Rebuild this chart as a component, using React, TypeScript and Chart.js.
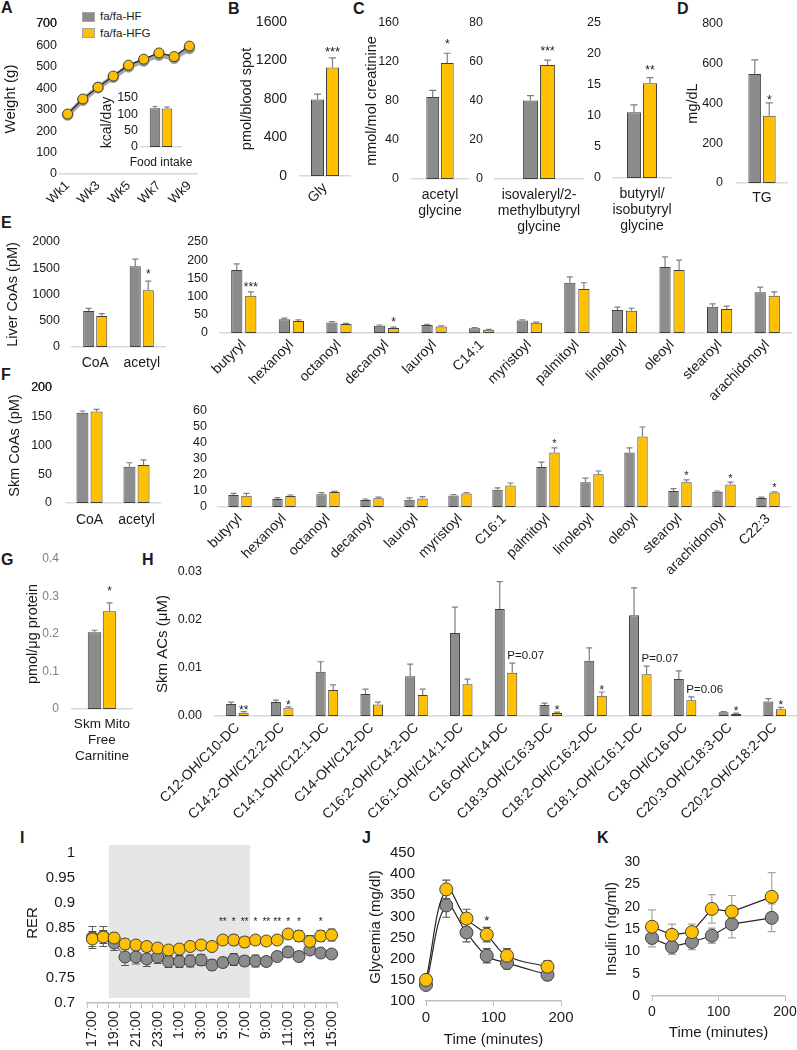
import React, { useEffect, useRef } from 'react';
import { Chart, registerables } from 'chart.js';

Chart.register(...registerables);

const FONT = "'Liberation Sans', Arial, Helvetica, sans-serif";
Chart.defaults.font.family = FONT;

const GRAY = '#8c8c8c';
const GOLD = '#ffc000';
const EDGE = '#404040';
const ERR = '#7f7f7f';
const BASE = '#d9d9d9';
const TXT = '#1a1a1a';

// ================= DATA =================
const groupNames = ['fa/fa-HF', 'fa/fa-HFG'];

// A: body weight + food intake inset
const weekLabels = ['Wk1', 'Wk2', 'Wk3', 'Wk4', 'Wk5', 'Wk6', 'Wk7', 'Wk8', 'Wk9'];
const weightHF = [276, 345, 403, 452, 501, 528, 555, 541, 586];
const weightHFG = [280, 350, 405, 457, 508, 536, 565, 548, 597];
const foodLabels = ['Food intake'];
const foodHF = [119];
const foodHFG = [118];
const foodHFErr = [5];
const foodHFGErr = [4];

// B
const glyLabels = ['Gly'];
const glyHF = [795];
const glyHFG = [1127];
const glyHFErr = [55];
const glyHFGErr = [100];
const glyStars = ['***'];

// C
const acGlyLabels = [['acetyl', 'glycine']];
const acGlyHF = [84];
const acGlyHFG = [119];
const acGlyHFErr = [7];
const acGlyHFGErr = [10];
const acGlyStars = ['*'];

const ivGlyLabels = [['isovaleryl/2-', 'methylbutyryl', 'glycine']];
const ivGlyHF = [40.3];
const ivGlyHFG = [58.4];
const ivGlyHFErr = [2.5];
const ivGlyHFGErr = [2.6];
const ivGlyStars = ['***'];

const buGlyLabels = [['butyryl/', 'isobutyryl', 'glycine']];
const buGlyHF = [10.6];
const buGlyHFG = [15.3];
const buGlyHFErr = [1.2];
const buGlyHFGErr = [0.9];
const buGlyStars = ['**'];

// D
const tgLabels = ['TG'];
const tgHF = [549];
const tgHFG = [338];
const tgHFErr = [71];
const tgHFGErr = [65];
const tgStars = ['*'];

// E
const liverCoaLabels = ['CoA', 'acetyl'];
const liverCoaHF = [684, 1540];
const liverCoaHFG = [589, 1083];
const liverCoaHFErr = [50, 133];
const liverCoaHFGErr = [45, 171];
const liverCoaStars = ['', '*'];

const liverAcylLabels = ['butyryl', 'hexanoyl', 'octanoyl', 'decanoyl', 'lauroyl', 'C14:1', 'myristoyl', 'palmitoyl', 'linoleoyl', 'oleoyl', 'stearoyl', 'arachidonoyl'];
const liverAcylHF = [173, 38, 29, 20, 22, 13, 34, 138, 63, 181, 72, 112];
const liverAcylHFG = [102, 33, 25, 14, 18, 9, 28, 121, 61, 173, 66, 102];
const liverAcylHFErr = [17, 3, 2, 2, 2, 1.5, 2, 16, 8, 28, 8, 14];
const liverAcylHFGErr = [11, 3, 1.5, 2, 1.5, 1, 2, 17, 7, 27, 8, 11];
const liverAcylStars = ['***', '', '', '*', '', '', '', '', '', '', '', ''];

// F
const skmCoaLabels = ['CoA', 'acetyl'];
const skmCoaHF = [157, 63];
const skmCoaHFG = [159, 66];
const skmCoaHFErr = [3, 7];
const skmCoaHFGErr = [4, 9];

const skmAcylLabels = ['butyryl', 'hexanoyl', 'octanoyl', 'decanoyl', 'lauroyl', 'myristoyl', 'C16:1', 'palmitoyl', 'linoleoyl', 'oleoyl', 'stearoyl', 'arachidonoyl', 'C22:3'];
const skmAcylHF = [7.5, 5, 8, 4.4, 4.5, 7.2, 10.8, 25, 15.5, 34, 10, 9.5, 5.6];
const skmAcylHFG = [7, 6.8, 9.4, 5.4, 5.3, 8.5, 13.5, 34, 20.5, 44, 15.5, 14, 9];
const skmAcylHFErr = [1, 0.8, 1, 0.6, 1.2, 0.6, 1.2, 3, 2.5, 3, 1.5, 0.5, 0.6];
const skmAcylHFGErr = [1.5, 0.7, 0.4, 0.8, 1.2, 0.5, 1.5, 3, 2, 6, 1.5, 1.5, 0.5];
const skmAcylStars = ['', '', '', '', '', '', '', '*', '', '', '*', '*', '*'];

// G
const carnLabels = [['Skm Mito', 'Free', 'Carnitine']];
const carnHF = [0.205];
const carnHFG = [0.261];
const carnHFErr = [0.005];
const carnHFGErr = [0.022];
const carnStars = ['*'];

// H
const acLabels = ['C12-OH/C10-DC', 'C14:2-OH/C12:2-DC', 'C14:1-OH/C12:1-DC', 'C14-OH/C12-DC', 'C16:2-OH/C14:2-DC', 'C16:1-OH/C14:1-DC', 'C16-OH/C14-DC', 'C18:3-OH/C16:3-DC', 'C18:2-OH/C16:2-DC', 'C18:1-OH/C16:1-DC', 'C18-OH/C16-DC', 'C20:3-OH/C18:3-DC', 'C20:2-OH/C18:2-DC'];
const acHF = [0.0025, 0.0029, 0.0092, 0.0046, 0.0083, 0.0173, 0.0223, 0.0023, 0.0115, 0.021, 0.0077, 0.0008, 0.003];
const acHFG = [0.0007, 0.0016, 0.0054, 0.0024, 0.0044, 0.0066, 0.009, 0.0006, 0.0042, 0.0087, 0.0033, 0.0004, 0.0014];
const acHFErr = [0.0004, 0.0004, 0.0021, 0.001, 0.0025, 0.0054, 0.0057, 0.0004, 0.0027, 0.0057, 0.0017, 0.0001, 0.0006];
const acHFGErr = [0.0002, 0.0003, 0.0011, 0.0005, 0.0012, 0.0011, 0.002, 0.0002, 0.0008, 0.0017, 0.0007, 0.0002, 0.0004];
const acStars = ['**', '*', '', '', '', '', '', '*', '*', '', '', '*', '*'];
const acNotes = ['', '', '', '', '', '', 'P=0.07', '', '', 'P=0.07', 'P=0.06', '', ''];

// I
const hours = ['17:00', '18:00', '19:00', '20:00', '21:00', '22:00', '23:00', '0:00', '1:00', '2:00', '3:00', '4:00', '5:00', '6:00', '7:00', '8:00', '9:00', '10:00', '11:00', '12:00', '13:00', '14:00', '15:00'];
const rerHF = [0.831, 0.833, 0.82, 0.792, 0.792, 0.788, 0.792, 0.783, 0.783, 0.784, 0.786, 0.776, 0.781, 0.787, 0.784, 0.784, 0.783, 0.793, 0.802, 0.793, 0.806, 0.8, 0.798];
const rerHFG = [0.828, 0.832, 0.83, 0.818, 0.816, 0.813, 0.81, 0.806, 0.808, 0.813, 0.816, 0.813, 0.826, 0.826, 0.822, 0.826, 0.824, 0.826, 0.838, 0.834, 0.823, 0.834, 0.836];
const rerHFErr = [0.022, 0.02, 0.015, 0.017, 0.014, 0.015, 0.013, 0.012, 0.012, 0.012, 0.011, 0.01, 0.01, 0.012, 0.01, 0.012, 0.009, 0.008, 0.01, 0.01, 0.006, 0.007, 0.006];
const rerHFGErr = [0.015, 0.013, 0.01, 0.01, 0.009, 0.009, 0.008, 0.008, 0.009, 0.008, 0.008, 0.008, 0.008, 0.01, 0.01, 0.009, 0.008, 0.008, 0.009, 0.011, 0.012, 0.011, 0.012];
const rerStars = ['', '', '', '', '', '', '', '', '', '', '', '', '**', '*', '**', '*', '**', '**', '*', '*', '', '*', ''];
const rerStarLevel = 0.868;
const darkStart = '19:00';
const darkEnd = '7:00';

// J
const gttTime = [0, 30, 60, 90, 120, 180];
const gttHF = [138, 326, 262, 207, 190, 162];
const gttHFG = [150, 364, 295, 257, 207, 181];
const gttHFErr = [5, 28, 22, 17, 14, 12];
const gttHFGErr = [6, 22, 22, 17, 17, 14];
const gttStars = ['', '', '', '*', '', ''];

// K
const insTime = [0, 30, 60, 90, 120, 180];
const insHF = [13, 11, 12.1, 13.5, 16.1, 17.5];
const insHFG = [15.5, 13.7, 14.3, 19.5, 18.9, 22.2];
const insHFErr = [2, 1.7, 1.7, 1.7, 3.1, 3.1];
const insHFGErr = [3.8, 2.4, 1.8, 3.2, 3.6, 5.4];

// ================= PLUGINS =================
function drawErr(chart: any, o: any) {
  if (!o || !o.errs) return;
  const ctx = chart.ctx;
  const ys = chart.scales.y;
  ctx.save();
  ctx.lineWidth = o.width ?? 1.2;
  o.errs.forEach((errs: number[], di: number) => {
    if (!errs) return;
    ctx.strokeStyle = (o.colors && o.colors[di]) || ERR;
    const meta = chart.getDatasetMeta(di);
    const data = chart.data.datasets[di].data;
    meta.data.forEach((el: any, i: number) => {
      const e = errs[i];
      if (!e) return;
      const d = data[i];
      const v = typeof d === 'number' ? d : d.y;
      const x = el.x;
      const top = ys.getPixelForValue(v + e);
      const bot = o.both ? ys.getPixelForValue(v - e) : el.y;
      const h = (o.cap ?? 6) / 2;
      ctx.beginPath();
      ctx.moveTo(x, bot);
      ctx.lineTo(x, top);
      ctx.moveTo(x - h, top);
      ctx.lineTo(x + h, top);
      if (o.both) {
        ctx.moveTo(x - h, bot);
        ctx.lineTo(x + h, bot);
      }
      ctx.stroke();
    });
  });
  ctx.restore();
}

const errPlugin = {
  id: 'errbars',
  beforeDatasetsDraw(chart: any, _a: any, o: any) {
    if (o && o.under) drawErr(chart, o);
  },
  afterDatasetsDraw(chart: any, _a: any, o: any) {
    if (o && !o.under) drawErr(chart, o);
  },
};

const marksPlugin = {
  id: 'marks',
  afterDatasetsDraw(chart: any, _a: any, o: any) {
    if (!o || (!o.items && !o.notes)) return;
    const ctx = chart.ctx;
    const ys = chart.scales.y;
    const di = o.ds ?? 1;
    const meta = chart.getDatasetMeta(di);
    const data = chart.data.datasets[di].data;
    const errTop = (i: number) => {
      const d = data[i];
      const v = typeof d === 'number' ? d : d.y;
      return ys.getPixelForValue(v + (o.errs ? o.errs[i] || 0 : 0));
    };
    ctx.save();
    ctx.fillStyle = TXT;
    ctx.textBaseline = 'alphabetic';
    if (o.items) {
      const fs = o.font ?? 12;
      ctx.font = `${fs}px ${FONT}`;
      ctx.textAlign = 'center';
      o.items.forEach((t: string, i: number) => {
        if (!t) return;
        const el = meta.data[i];
        const cy = o.level != null ? ys.getPixelForValue(o.level) : errTop(i) - (o.gap ?? 8);
        ctx.fillText(t, el.x, cy + 0.58 * fs);
      });
    }
    if (o.notes) {
      ctx.font = `${o.noteFont ?? 11.5}px ${FONT}`;
      ctx.textAlign = 'left';
      o.notes.forEach((t: string, i: number) => {
        if (!t) return;
        const el = meta.data[i];
        ctx.fillText(t, el.x - el.width / 2, errTop(i) - (o.noteGap ?? 4));
      });
    }
    ctx.restore();
  },
};

const shadePlugin = {
  id: 'shade',
  beforeDatasetsDraw(chart: any, _a: any, o: any) {
    if (!o || o.from == null) return;
    const xs = chart.scales.x;
    const ys = chart.scales.y;
    const labels = chart.data.labels;
    const i0 = labels.indexOf(o.from);
    const i1 = labels.indexOf(o.to);
    const half = (xs.getPixelForValue(1) - xs.getPixelForValue(0)) / 2;
    const x0 = xs.getPixelForValue(i0) - half;
    const x1 = xs.getPixelForValue(i1) + half;
    const y0 = ys.getPixelForValue(o.top);
    const y1 = ys.getPixelForValue(o.bottom);
    const ctx = chart.ctx;
    ctx.save();
    ctx.fillStyle = o.color;
    ctx.fillRect(x0, y0, x1 - x0, y1 - y0);
    ctx.restore();
  },
};

// Draws the label of the top y tick (safety net for the topmost axis label).
const topLabelPlugin = {
  id: 'toplabel',
  afterDraw(chart: any, _a: any, o: any) {
    if (!o || o.value == null) return;
    const ys = chart.scales.y;
    const ctx = chart.ctx;
    ctx.save();
    ctx.font = `${o.size}px ${FONT}`;
    ctx.fillStyle = o.color;
    ctx.textAlign = 'right';
    ctx.textBaseline = 'middle';
    ctx.fillText(o.fmt(o.value), ys.right - o.pad, ys.getPixelForValue(o.value));
    ctx.restore();
  },
};

// ================= HELPERS =================
const fixW = (w: number) => (sc: any) => {
  sc.width = w;
  sc.paddingTop = 0; sc.paddingBottom = 0; sc.paddingLeft = 0; sc.paddingRight = 0;
};
const fixH = (h: number) => (sc: any) => {
  sc.height = h;
  sc.paddingTop = 0; sc.paddingBottom = 0; sc.paddingLeft = 0; sc.paddingRight = 0;
};

function baseOptions(c: any, a: any) {
  return {
    responsive: false,
    animation: false,
    devicePixelRatio: 1,
    events: [],
    layout: { autoPadding: false, padding: { left: 0, top: a.t - c.t, right: c.r - a.r, bottom: 0 } },
  };
}

const defaultFmt = (v: any) => String(v);

function topLabelOpts(s: any) {
  if (!s.fixTop) return {};
  return {
    value: s.y.limit ?? s.y.max,
    fmt: s.y.fmt ?? defaultFmt,
    size: s.tickFont,
    color: s.tickColor ?? TXT,
    pad: s.tickPad,
  };
}

function yAxis(s: any) {
  const ax: any = {
    min: s.y.min,
    max: s.y.max,
    ticks: {
      autoSkip: false,
      stepSize: s.y.step,
      padding: s.tickPad,
      color: s.tickColor ?? TXT,
      font: { family: FONT, size: s.tickFont },
      callback: s.y.fmt ?? defaultFmt,
    },
    grid: { display: false, drawTicks: false },
    border: { display: false },
    title: s.title
      ? { display: true, text: s.title, color: TXT, font: { family: FONT, size: s.titleFont }, padding: { top: s.titlePad, bottom: 0 } }
      : { display: false },
    afterFit: fixW(s.area.l - s.canvas.l),
  };
  if (s.y.limit != null) {
    ax.afterBuildTicks = (sc: any) => { sc.ticks = sc.ticks.filter((t: any) => t.value <= s.y.limit + 1e-6); };
  }
  return ax;
}

function barConfig(s: any) {
  const c = s.canvas, a = s.area;
  const ds = (data: number[], color: string, label: string) => ({
    label, data: data.slice(), backgroundColor: color, borderColor: EDGE, borderWidth: 1, borderSkipped: false,
    categoryPercentage: s.cat, barPercentage: s.bar,
  });
  return {
    type: 'bar',
    data: { labels: s.labels.slice(), datasets: [ds(s.hf, GRAY, groupNames[0]), ds(s.hfg, GOLD, groupNames[1])] },
    options: {
      ...baseOptions(c, a),
      plugins: {
        legend: { display: false },
        tooltip: { enabled: false },
        errbars: { errs: [s.hfErr, s.hfgErr], cap: s.cap ?? 6 },
        marks: { items: s.stars, notes: s.notes, errs: s.hfgErr, ds: 1, gap: s.starGap ?? 8, font: s.starFont ?? 12, noteFont: 11.5, noteGap: 4 },
        toplabel: topLabelOpts(s),
      },
      scales: {
        x: {
          grid: { display: false, drawTicks: false },
          border: { display: true, color: BASE, width: 1.5 },
          ticks: {
            autoSkip: false, maxRotation: s.rotate, minRotation: s.rotate, padding: s.labelPad, color: TXT,
            font: { family: FONT, size: s.labelFont, lineHeight: s.lineHeight ?? 1.15 },
          },
          afterFit: fixH(c.b - a.b),
        },
        y: yAxis(s),
      },
    },
    plugins: [errPlugin, marksPlugin, topLabelPlugin],
  };
}

function panelA() {
  const c = { l: 0, t: 0, r: 200, b: 215 }, a = { l: 60, t: 24, r: 197, b: 174 };
  const s = { canvas: c, area: a, y: { min: 0, max: 700, step: 100 }, tickFont: 12.5, tickPad: 3, title: 'Weight (g)', titleFont: 15, titlePad: 2, fixTop: true };
  return {
    canvas: c,
    config: {
      type: 'line',
      data: {
        labels: weekLabels.slice(),
        datasets: [
          { label: groupNames[0], data: weightHF.slice(), borderColor: '#a6a6a6', borderWidth: 5, pointRadius: 5.5, pointBackgroundColor: GRAY, pointBorderColor: '#a6a6a6', pointBorderWidth: 1, order: 2, clip: false },
          { label: groupNames[1], data: weightHFG.slice(), borderColor: '#262626', borderWidth: 1.2, pointRadius: 5, pointBackgroundColor: GOLD, pointBorderColor: EDGE, pointBorderWidth: 1, order: 1, clip: false },
        ],
      },
      options: {
        ...baseOptions(c, a),
        plugins: { legend: { display: false }, tooltip: { enabled: false }, toplabel: topLabelOpts(s) },
        scales: {
          x: {
            offset: true,
            grid: { display: false, drawTicks: false },
            border: { display: true, color: BASE, width: 1.5 },
            ticks: {
              autoSkip: false, minRotation: 45, maxRotation: 45, padding: 4, color: TXT,
              font: { family: FONT, size: 13 },
              callback: (_v: any, i: number) => (i % 2 === 0 ? weekLabels[i] : ''),
            },
            afterFit: fixH(c.b - a.b),
          },
          y: yAxis(s),
        },
      },
      plugins: [topLabelPlugin],
    },
  };
}

function bar(s: any) {
  return { canvas: s.canvas, config: barConfig(s) };
}

function panelI() {
  const c = { l: 10, t: 830, r: 345, b: 1050 }, a = { l: 87, t: 843, r: 337, b: 1003 };
  const s = { canvas: c, area: a, y: { min: 0.7, max: 1.02, step: 0.05, limit: 1, fmt: (v: any) => String(+Number(v).toFixed(2)) }, tickFont: 15, tickPad: 12, title: 'RER', titleFont: 15, titlePad: 14, fixTop: true };
  const pt = (data: number[], color: string, label: string, order: number) => ({
    label, data: data.slice(), borderColor: '#404040', borderWidth: 1, pointRadius: 6, pointBackgroundColor: color, pointBorderColor: EDGE, pointBorderWidth: 1, order, clip: false,
  });
  return {
    canvas: c,
    config: {
      type: 'line',
      data: { labels: hours.slice(), datasets: [pt(rerHF, GRAY, groupNames[0], 2), pt(rerHFG, GOLD, groupNames[1], 1)] },
      options: {
        ...baseOptions(c, a),
        plugins: {
          legend: { display: false },
          tooltip: { enabled: false },
          shade: { from: darkStart, to: darkEnd, top: 1.016, bottom: 0.71, color: '#e6e6e6' },
          errbars: { errs: [rerHFErr, rerHFGErr], both: true, under: true, cap: 8, colors: ['#595959', '#595959'], width: 1 },
          marks: { items: rerStars, level: rerStarLevel, font: 10, ds: 1 },
          toplabel: topLabelOpts(s),
        },
        scales: {
          x: {
            offset: true,
            grid: { display: true, drawOnChartArea: false, drawTicks: true, tickLength: 5, color: '#bfbfbf', offset: true },
            border: { display: true, color: '#bfbfbf', width: 1.5 },
            ticks: {
              autoSkip: false, minRotation: 90, maxRotation: 90, padding: 3, color: TXT,
              font: { family: FONT, size: 14.5 },
              callback: (_v: any, i: number) => (i % 2 === 0 ? hours[i] : ''),
            },
            afterFit: fixH(c.b - a.b),
          },
          y: yAxis(s),
        },
      },
      plugins: [shadePlugin, errPlugin, marksPlugin, topLabelPlugin],
    },
  };
}

function timeCourse(p: any) {
  const c = p.canvas, a = p.area;
  const pts = (ys: number[]) => p.times.map((t: number, i: number) => ({ x: t, y: ys[i] }));
  const ds = (ys: number[], color: string, label: string, order: number) => ({
    label, data: pts(ys), borderColor: '#262626', borderWidth: 1.2, pointRadius: 6.5, pointBackgroundColor: color,
    pointBorderColor: EDGE, pointBorderWidth: 1, order, tension: p.tension, clip: false,
  });
  return {
    canvas: c,
    config: {
      type: 'line',
      data: { datasets: [ds(p.hf, GRAY, groupNames[0], 2), ds(p.hfg, GOLD, groupNames[1], 1)] },
      options: {
        ...baseOptions(c, a),
        plugins: {
          legend: { display: false },
          tooltip: { enabled: false },
          errbars: { errs: [p.hfErr, p.hfgErr], both: true, under: true, cap: 8, colors: [p.errColor, p.errColor], width: 1.2 },
          marks: p.stars ? { items: p.stars, errs: p.hfgErr, gap: p.starGap, font: 13, ds: 1 } : {},
        },
        scales: {
          x: {
            type: 'linear', min: 0, max: 200,
            grid: { display: true, drawOnChartArea: false, drawTicks: true, tickLength: 5, color: '#bfbfbf' },
            border: { display: true, color: '#bfbfbf', width: 1.5 },
            ticks: { stepSize: 100, padding: p.labelPad, color: TXT, font: { family: FONT, size: p.tickFont }, callback: (v: any) => String(v) },
            title: { display: true, text: 'Time (minutes)', color: TXT, font: { family: FONT, size: 15 }, padding: { top: 0, bottom: p.xTitlePad } },
            afterFit: fixH(c.b - a.b),
          },
          y: yAxis(p),
        },
      },
      plugins: [errPlugin, marksPlugin],
    },
  };
}

// Builds fresh config objects every call (Chart.js mutates the config it receives).
function buildPanels(): any[] {
  return [
    panelA(),
    bar({
      canvas: { l: 98, t: 88, r: 200, b: 172 }, area: { l: 141, t: 98, r: 181, b: 147 },
      labels: foodLabels, hf: foodHF, hfg: foodHFG, hfErr: foodHFErr, hfgErr: foodHFGErr,
      y: { min: 0, max: 150, step: 50 }, tickFont: 12.5, tickPad: 3, title: 'kcal/day', titleFont: 14, titlePad: 1,
      labelFont: 12, labelPad: 9, rotate: 0, cat: 0.6, bar: 0.88, cap: 5,
    }),
    bar({
      canvas: { l: 230, t: 0, r: 355, b: 215 }, area: { l: 300, t: 22, r: 350, b: 176 },
      labels: glyLabels, hf: glyHF, hfg: glyHFG, hfErr: glyHFErr, hfgErr: glyHFGErr, stars: glyStars,
      y: { min: 0, max: 1600, step: 400 }, tickFont: 14, tickPad: 13, title: 'pmol/blood spot', titleFont: 14.5, titlePad: 8,
      labelFont: 14, labelPad: 4, rotate: 45, cat: 0.6, bar: 0.87, cap: 7, starFont: 13, starGap: 9,
    }),
    bar({
      canvas: { l: 350, t: 0, r: 470, b: 240 }, area: { l: 412, t: 23, r: 468, b: 179 },
      labels: acGlyLabels, hf: acGlyHF, hfg: acGlyHFG, hfErr: acGlyHFErr, hfgErr: acGlyHFGErr, stars: acGlyStars,
      y: { min: 0, max: 160, step: 40 }, tickFont: 12.5, tickPad: 13, title: 'mmol/mol creatinine', titleFont: 14.5, titlePad: 13,
      labelFont: 14, labelPad: 8, rotate: 0, cat: 0.52, bar: 0.88, cap: 7, starFont: 12, starGap: 12,
    }),
    bar({
      canvas: { l: 470, t: 0, r: 590, b: 240 }, area: { l: 495, t: 23, r: 583, b: 179 },
      labels: ivGlyLabels, hf: ivGlyHF, hfg: ivGlyHFG, hfErr: ivGlyHFErr, hfgErr: ivGlyHFGErr, stars: ivGlyStars,
      y: { min: 0, max: 80, step: 20 }, tickFont: 12.5, tickPad: 12,
      labelFont: 14, labelPad: 8, rotate: 0, cat: 0.39, bar: 0.88, cap: 7, starFont: 12, starGap: 12,
    }),
    bar({
      canvas: { l: 580, t: 0, r: 678, b: 240 }, area: { l: 613, t: 23, r: 671, b: 178 },
      labels: buGlyLabels, hf: buGlyHF, hfg: buGlyHFG, hfErr: buGlyHFErr, hfgErr: buGlyHFGErr, stars: buGlyStars,
      y: { min: 0, max: 25, step: 5 }, tickFont: 12.5, tickPad: 12,
      labelFont: 14, labelPad: 8, rotate: 0, cat: 0.55, bar: 0.88, cap: 7, starFont: 12, starGap: 11,
    }),
    bar({
      canvas: { l: 680, t: 0, r: 797, b: 215 }, area: { l: 737, t: 24, r: 787, b: 183 },
      labels: tgLabels, hf: tgHF, hfg: tgHFG, hfErr: tgHFErr, hfgErr: tgHFGErr, stars: tgStars,
      y: { min: 0, max: 800, step: 200 }, tickFont: 12.5, tickPad: 14, title: 'mg/dL', titleFont: 14.5, titlePad: 4,
      labelFont: 14, labelPad: 7, rotate: 0, cat: 0.58, bar: 0.88, cap: 7, starFont: 12, starGap: 6,
    }),
    bar({
      canvas: { l: 0, t: 228, r: 170, b: 380 }, area: { l: 72, t: 242, r: 165, b: 347 },
      labels: liverCoaLabels, hf: liverCoaHF, hfg: liverCoaHFG, hfErr: liverCoaHFErr, hfgErr: liverCoaHFGErr, stars: liverCoaStars,
      y: { min: 0, max: 2000, step: 500 }, tickFont: 12.5, tickPad: 12, title: 'Liver CoAs (pM)', titleFont: 14.5, titlePad: 4,
      labelFont: 14, labelPad: 8, rotate: 0, cat: 0.56, bar: 0.85, cap: 6, starFont: 12, starGap: 10,
    }),
    bar({
      canvas: { l: 170, t: 228, r: 797, b: 410 }, area: { l: 220, t: 242, r: 791, b: 333 },
      labels: liverAcylLabels, hf: liverAcylHF, hfg: liverAcylHFG, hfErr: liverAcylHFErr, hfgErr: liverAcylHFGErr, stars: liverAcylStars,
      y: { min: 0, max: 250, step: 50 }, tickFont: 12.5, tickPad: 12,
      labelFont: 14, labelPad: 4, rotate: 45, cat: 0.59, bar: 0.8, cap: 6, starFont: 12, starGap: 8,
    }),
    bar({
      canvas: { l: 0, t: 376, r: 170, b: 540 }, area: { l: 66, t: 388, r: 160, b: 503 },
      labels: skmCoaLabels, hf: skmCoaHF, hfg: skmCoaHFG, hfErr: skmCoaHFErr, hfgErr: skmCoaHFGErr,
      y: { min: 0, max: 200, step: 50 }, tickFont: 12.5, tickPad: 14, title: 'Skm CoAs (pM)', titleFont: 14.5, titlePad: 6,
      labelFont: 14, labelPad: 9, rotate: 0, cat: 0.6, bar: 0.85, cap: 6, fixTop: true,
    }),
    bar({
      canvas: { l: 170, t: 400, r: 797, b: 580 }, area: { l: 218, t: 411, r: 790, b: 507 },
      labels: skmAcylLabels, hf: skmAcylHF, hfg: skmAcylHFG, hfErr: skmAcylHFErr, hfgErr: skmAcylHFGErr, stars: skmAcylStars,
      y: { min: 0, max: 60, step: 10 }, tickFont: 12.5, tickPad: 11,
      labelFont: 14, labelPad: 4, rotate: 45, cat: 0.59, bar: 0.8, cap: 6, starFont: 11, starGap: 7,
    }),
    bar({
      canvas: { l: 0, t: 545, r: 140, b: 770 }, area: { l: 72, t: 559, r: 132, b: 709 },
      labels: carnLabels, hf: carnHF, hfg: carnHFG, hfErr: carnHFErr, hfgErr: carnHFGErr, stars: carnStars,
      y: { min: 0, max: 0.4, step: 0.1, fmt: (v: any) => String(+Number(v).toFixed(1)) }, tickFont: 12, tickPad: 13, tickColor: '#808080',
      title: 'pmol/μg protein', titleFont: 14.5, titlePad: 24,
      labelFont: 13.5, labelPad: 8, rotate: 0, cat: 0.5, bar: 0.9, cap: 6, starFont: 12, starGap: 15,
    }),
    bar({
      canvas: { l: 140, t: 560, r: 797, b: 830 }, area: { l: 215, t: 572, r: 797, b: 716 },
      labels: acLabels, hf: acHF, hfg: acHFG, hfErr: acHFErr, hfgErr: acHFGErr, stars: acStars, notes: acNotes,
      y: { min: 0, max: 0.03, step: 0.01, fmt: (v: any) => Number(v).toFixed(2) }, tickFont: 12.5, tickPad: 13,
      title: 'Skm ACs (μM)', titleFont: 15, titlePad: 14,
      labelFont: 14, labelPad: 4, rotate: 45, cat: 0.56, bar: 0.8, cap: 6, starFont: 12, starGap: 5,
    }),
    panelI(),
    timeCourse({
      canvas: { l: 345, t: 838, r: 575, b: 1050 }, area: { l: 426, t: 853, r: 561, b: 1001 },
      times: gttTime, hf: gttHF, hfg: gttHFG, hfErr: gttHFErr, hfgErr: gttHFGErr, stars: gttStars, starGap: 10,
      tension: 0.4, errColor: '#595959',
      y: { min: 100, max: 450, step: 50 }, tickFont: 15, tickPad: 11, title: 'Glycemia (mg/dl)', titleFont: 15, titlePad: 22,
      labelPad: 3, xTitlePad: 1,
    }),
    timeCourse({
      canvas: { l: 578, t: 845, r: 797, b: 1050 }, area: { l: 652, t: 862, r: 785, b: 996 },
      times: insTime, hf: insHF, hfg: insHFG, hfErr: insHFErr, hfgErr: insHFGErr,
      tension: 0, errColor: '#a6a6a6',
      y: { min: 0, max: 30, step: 5 }, tickFont: 14, tickPad: 12, title: 'Insulin (ng/ml)', titleFont: 15, titlePad: 25,
      labelPad: 3, xTitlePad: 8,
    }),
  ];
}

const layoutPanels = buildPanels();

const letters: [string, number, number][] = [
  ['A', 1, 0], ['B', 228, 1], ['C', 353, 1], ['D', 677, 1],
  ['E', 1, 215], ['F', 1, 367], ['G', 1, 552], ['H', 142, 552],
  ['I', 20, 830], ['J', 362, 830], ['K', 597, 830],
];

export default function App() {
  const refs = useRef<(HTMLCanvasElement | null)[]>([]);
  useEffect(() => {
    const fresh = buildPanels();
    const charts = fresh.map((p, i) => new Chart(refs.current[i] as HTMLCanvasElement, p.config as any));
    return () => charts.forEach((c) => c.destroy());
  }, []);
  return (
    <div style={{ position: 'absolute', left: 0, top: 0, width: 797, height: 1050, background: '#fff', overflow: 'hidden', fontFamily: FONT, color: TXT }}>
      {letters.map(([t, x, y]) => (
        <div key={t} style={{ position: 'absolute', left: x, top: y, fontSize: 16, lineHeight: '16px', fontWeight: 'bold' }}>{t}</div>
      ))}
      <div style={{ position: 'absolute', left: 82, top: 12, width: 13, height: 10, background: GRAY, border: '1px solid #a6a6a6', boxSizing: 'border-box' }} />
      <div style={{ position: 'absolute', left: 100, top: 9, fontSize: 11.5, lineHeight: '14px' }}>{groupNames[0]}</div>
      <div style={{ position: 'absolute', left: 82, top: 28, width: 13, height: 10, background: GOLD, border: '1px solid #a6a6a6', boxSizing: 'border-box' }} />
      <div style={{ position: 'absolute', left: 100, top: 26, fontSize: 11.5, lineHeight: '14px' }}>{groupNames[1]}</div>
      {layoutPanels.map((p, i) => {
        const w = p.canvas.r - p.canvas.l;
        const h = p.canvas.b - p.canvas.t;
        return (
          <canvas
            key={i}
            ref={(el) => { refs.current[i] = el; }}
            width={w}
            height={h}
            style={{ position: 'absolute', left: p.canvas.l, top: p.canvas.t, width: w, height: h }}
          />
        );
      })}
    </div>
  );
}
